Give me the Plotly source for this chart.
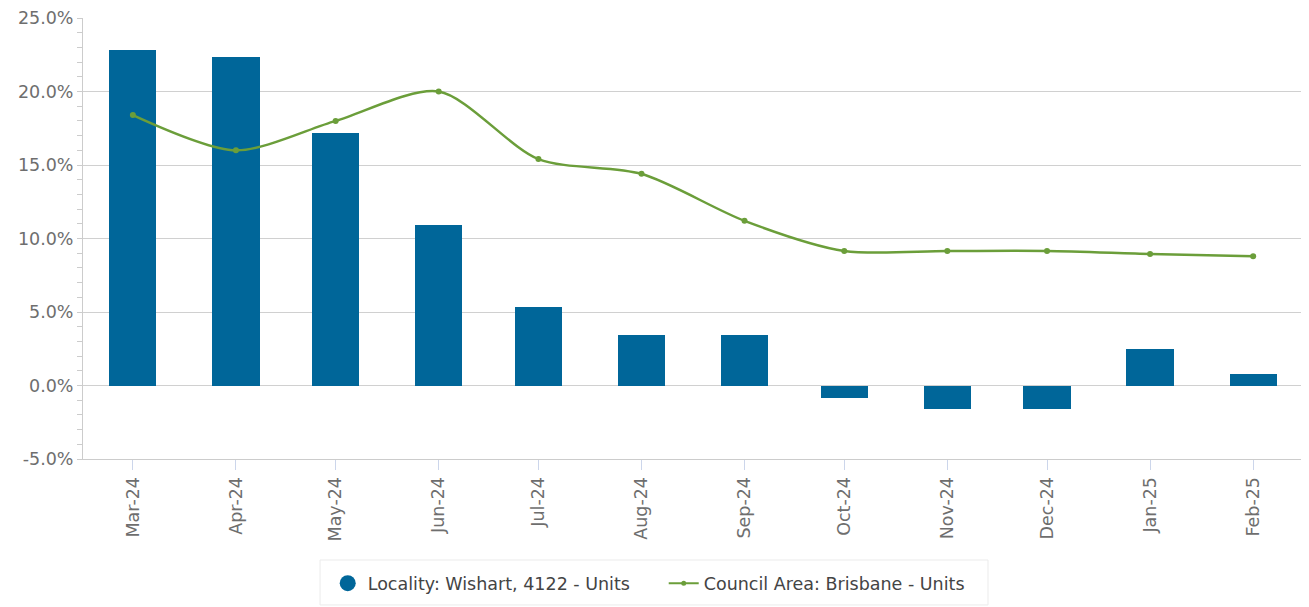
import plotly.graph_objects as go

months = ["2024-03-01", "2024-04-01", "2024-05-01", "2024-06-01", "2024-07-01", "2024-08-01",
          "2024-09-01", "2024-10-01", "2024-11-01", "2024-12-01", "2025-01-01", "2025-02-01"]
tick_labels = ["Mar-24", "Apr-24", "May-24", "Jun-24", "Jul-24", "Aug-24",
               "Sep-24", "Oct-24", "Nov-24", "Dec-24", "Jan-25", "Feb-25"]
locality_values = [22.8, 22.35, 17.2, 10.9, 5.35, 3.45, 3.45, -0.85, -1.6, -1.6, 2.5, 0.8]
council_values = [18.4, 16.0, 18.0, 20.0, 15.4, 14.4, 11.2, 9.15, 9.15, 9.15, 8.95, 8.8]
y_tick_values = [-5, 0, 5, 10, 15, 20, 25]
y_tick_labels = ["-5.0%", "0.0%", "5.0%", "10.0%", "15.0%", "20.0%", "25.0%"]
y_minor_values = [v for v in range(-5, 26) if v % 5 != 0]

locality_name = "Locality: Wishart, 4122 - Units"
council_name = "Council Area: Brisbane - Units"

BLUE = "#006699"
GREEN = "#6b9e3a"
DAY_MS = 86400000

fig = go.Figure()
fig.add_trace(go.Bar(
    x=months, y=locality_values, name=locality_name,
    marker=dict(color=BLUE, line=dict(width=0)),
    width=14.2 * DAY_MS, showlegend=False,
))
fig.add_trace(go.Scatter(
    x=months, y=council_values, name=council_name, mode="lines+markers",
    line=dict(color=GREEN, width=2.5, shape="spline", smoothing=0.8),
    marker=dict(color=GREEN, size=6), showlegend=False,
))
# legend entries
fig.add_trace(go.Scatter(
    x=[None], y=[None], mode="markers", name=locality_name,
    marker=dict(symbol="circle", size=16, color=BLUE),
))
fig.add_trace(go.Scatter(
    x=[None], y=[None], mode="lines+markers", name=council_name,
    line=dict(color=GREEN, width=2), marker=dict(color=GREEN, size=5),
))

# the page body has an 8px margin, so the figure is drawn 8px right and down
fig.update_layout(
    width=1309, height=607,
    margin=dict(l=75, r=14, t=10, b=156),
    paper_bgcolor="white", plot_bgcolor="white",
    font=dict(family="DejaVu Sans", color="#666666", size=17.5),
    bargap=0,
    legend=dict(
        orientation="h", x=0.476, xanchor="center", y=-0.241, yanchor="top",
        borderwidth=0, bgcolor="rgba(0,0,0,0)",
        font=dict(size=17.5, color="#444444"),
        entrywidth=291, entrywidthmode="pixels",
    ),
    shapes=[dict(
        type="rect", xref="paper", yref="paper",
        x0=0.1943, x1=0.7418, y0=-0.331, y1=-0.229,
        line=dict(color="#ebebeb", width=1), fillcolor="rgba(0,0,0,0)", layer="below",
    )],
)
fig.update_xaxes(
    type="date", range=["2024-02-15", "2025-02-16"], automargin=False,
    tickmode="array", tickvals=months, ticktext=tick_labels, tickangle=-90,
    showgrid=False, showline=True, linecolor="#cccccc", linewidth=1,
    ticks="outside", ticklen=10, tickcolor="#ccd6eb",
    tickfont=dict(size=17.5, color="#6e6e6e"),
)
fig.update_yaxes(
    range=[-5, 25], automargin=False,
    tickmode="array", tickvals=y_tick_values, ticktext=y_tick_labels,
    showgrid=True, gridcolor="#d0d0d0", gridwidth=1, zeroline=False,
    showline=True, linecolor="#cccccc", linewidth=1,
    ticks="outside", ticklen=5, tickcolor="#cccccc",
    minor=dict(tickmode="array", tickvals=y_minor_values, ticks="outside", ticklen=5,
               tickcolor="#cccccc", showgrid=False),
    tickfont=dict(size=17.5, color="#6e6e6e"),
)

fig.write_html("out.html")
